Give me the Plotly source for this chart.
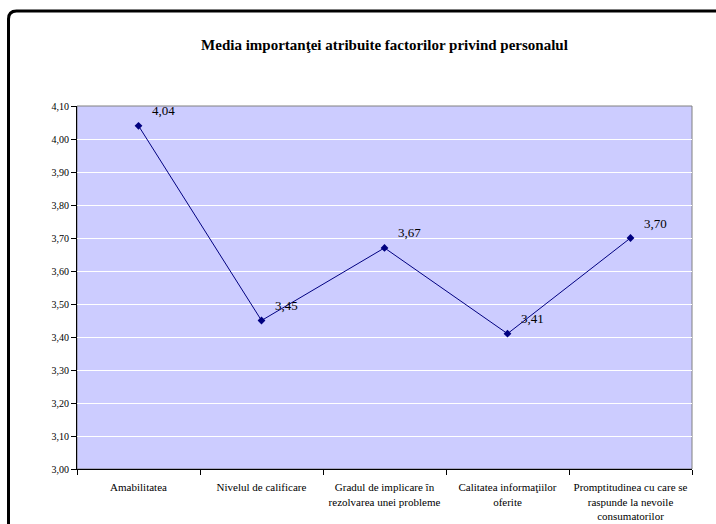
import plotly.graph_objects as go

# Mean importance scores for staff-related factors
categories = [
    "Amabilitatea",
    "Nivelul de calificare",
    "Gradul de implicare în<br>rezolvarea unei probleme",
    "Calitatea informaţiilor<br>oferite",
    "Promptitudinea cu care se<br>raspunde la nevoile<br>consumatorilor",
]
values = [4.04, 3.45, 3.67, 3.41, 3.70]
y_ticks = [3.0, 3.1, 3.2, 3.3, 3.4, 3.5, 3.6, 3.7, 3.8, 3.9, 4.0, 4.1]

W, H = 716, 524
ML, MR, MT, MB = 77, 24, 106, 55
SERIF = "Liberation Serif"
NAVY = "#000080"

fig = go.Figure()
fig.add_trace(go.Scatter(
    x=categories,
    y=values,
    mode="lines+markers",
    line=dict(color=NAVY, width=1),
    marker=dict(symbol="diamond", size=6, color=NAVY),
    hoverinfo="skip",
    showlegend=False,
))

# value labels placed up and to the right of each point
for c, v in zip(categories, values):
    fig.add_annotation(
        x=c, y=v, xref="x", yref="y",
        text=f"{v:.2f}".replace(".", ","),
        showarrow=False,
        xanchor="left", yanchor="middle",
        xshift=11, yshift=15,
        font=dict(family=SERIF, size=13, color="#000"),
    )

# pixel -> paper helpers for the outer chart frame
pw, ph = W - ML - MR, H - MT - MB
def px(x):
    return (x - ML) / pw
def py(y):
    return (H - MB - y) / ph

fx, fy, r = 8.5, 11, 8
frame = (
    f"M {px(fx)} {py(H + 20)} "
    f"L {px(fx)} {py(fy + r)} "
    f"Q {px(fx)} {py(fy)} {px(fx + r)} {py(fy)} "
    f"L {px(W + 20)} {py(fy)}"
)

fig.update_layout(
    width=W, height=H,
    margin=dict(l=ML, r=MR, t=MT, b=MB, autoexpand=False),
    paper_bgcolor="white",
    plot_bgcolor="#CCCCFF",
    separators=",.",
    font=dict(family=SERIF, size=10, color="#000"),
    title=dict(
        text="<b>Media importanţei atribuite factorilor privind personalul</b>",
        x=0.5, xref="paper", xanchor="center",
        y=1 - 45 / H, yref="container", yanchor="middle",
        font=dict(family=SERIF, size=15, color="#000"),
    ),
    xaxis=dict(
        type="category",
        tickson="boundaries",
        ticks="outside", ticklen=5, tickcolor="#000",
        showline=True, linecolor="#000", linewidth=1,
        showgrid=False,
        automargin=False,
        tickangle=0,
        ticklabelstandoff=8,
        tickfont=dict(family=SERIF, size=11, color="#000"),
        range=[-0.5, 4.5],
        fixedrange=True,
    ),
    yaxis=dict(
        range=[3.0, 4.1],
        tickvals=y_ticks,
        tickformat=".2f",
        ticks="outside", ticklen=5, tickcolor="#000",
        showline=True, linecolor="#000", linewidth=1,
        showgrid=True, gridcolor="white", gridwidth=1,
        zeroline=False,
        automargin=False,
        tickfont=dict(family=SERIF, size=10, color="#000"),
        fixedrange=True,
    ),
    shapes=[
        dict(type="rect", xref="paper", yref="paper", x0=0, y0=0, x1=1, y1=1,
             line=dict(color="#808080", width=1), layer="below"),
        dict(type="path", xref="paper", yref="paper", path=frame,
             line=dict(color="#000", width=3)),
    ],
)

fig.write_html("out.html")
